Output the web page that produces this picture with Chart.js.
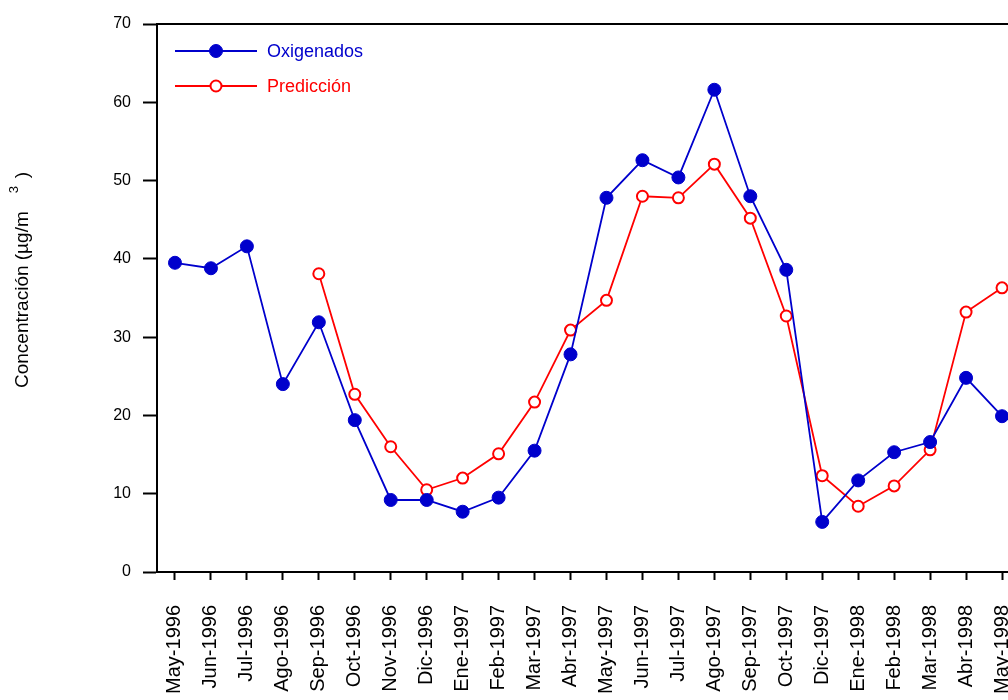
<!DOCTYPE html>
<html>
<head>
<meta charset="utf-8">
<script src="https://cdn.jsdelivr.net/npm/chart.js@4.4.1/dist/chart.umd.min.js"></script>
<style>
  html, body { margin: 0; padding: 0; overflow: hidden; background: #fff; }
  canvas { display: block; }
</style>
</head>
<body>
<canvas id="chartCanva" width="1060" height="700"></canvas>
<script>
// monthly samples (Nov-1997 has no measurement)
const months = ["May-1996", "Jun-1996", "Jul-1996", "Ago-1996", "Sep-1996", "Oct-1996",
    "Nov-1996", "Dic-1996", "Ene-1997", "Feb-1997", "Mar-1997", "Abr-1997", "May-1997",
    "Jun-1997", "Jul-1997", "Ago-1997", "Sep-1997", "Oct-1997", "Dic-1997", "Ene-1998",
    "Feb-1998", "Mar-1998", "Abr-1998", "May-1998"]

const oxigenados = [39.5, 38.8, 41.6, 24.0, 31.9, 19.4, 9.2, 9.2, 7.7, 9.5, 15.5, 27.8,
    47.8, 52.6, 50.4, 61.6, 48.0, 38.6, 6.4, 11.7, 15.3, 16.6, 24.8, 19.9]

const prediccion = [null, null, null, null, 38.1, 22.7, 16.0, 10.5, 12.0, 15.1, 21.7, 30.9,
    34.7, 48.0, 47.8, 52.1, 45.2, 32.7, 12.3, 8.4, 11.0, 15.6, 33.2, 36.3]

const yMax = 70
const yStep = 10

const fontFamily = "'Liberation Sans', Arial, sans-serif"
const blue = "rgb(0,0,204)"
const red = "rgb(255,0,0)"

// top and right edges of the plot box
const framePlugin = {
    id: "frame",
    afterDraw(chart) {
        const { ctx, chartArea } = chart
        ctx.save()
        ctx.strokeStyle = "#000"
        ctx.lineWidth = 2
        ctx.beginPath()
        ctx.moveTo(chartArea.left, chartArea.top)
        ctx.lineTo(chartArea.right, chartArea.top)
        ctx.lineTo(chartArea.right, chartArea.bottom)
        ctx.stroke()
        ctx.restore()
    }
}

// y axis title with a raised "3"
const yTitlePlugin = {
    id: "yTitle",
    afterDraw(chart) {
        const { ctx } = chart
        ctx.save()
        ctx.translate(28, 388)
        ctx.rotate(-Math.PI / 2)
        ctx.fillStyle = "#000"
        ctx.textBaseline = "alphabetic"
        ctx.textAlign = "left"
        ctx.font = "19px " + fontFamily
        const main = "Concentración (µg/m"
        ctx.fillText(main, 0, 0)
        const w = ctx.measureText(main).width
        ctx.font = "13px " + fontFamily
        ctx.fillText("3", w + 18, -10)
        ctx.font = "19px " + fontFamily
        ctx.fillText(")", w + 33, 0)
        ctx.restore()
    }
}

// legend drawn inside the plot, top left
const legendPlugin = {
    id: "insideLegend",
    afterDatasetsDraw(chart) {
        const { ctx, chartArea } = chart
        ctx.save()
        chart.data.datasets.forEach((ds, i) => {
            const y = chartArea.top + 27 + i * 35
            const x0 = chartArea.left + 18
            ctx.strokeStyle = ds.borderColor
            ctx.lineWidth = ds.borderWidth
            ctx.beginPath()
            ctx.moveTo(x0, y)
            ctx.lineTo(x0 + 82, y)
            ctx.stroke()
            ctx.beginPath()
            ctx.arc(x0 + 41, y, ds.pointRadius, 0, Math.PI * 2)
            ctx.fillStyle = ds.pointBackgroundColor
            ctx.fill()
            ctx.lineWidth = ds.pointBorderWidth
            ctx.strokeStyle = ds.pointBorderColor
            ctx.stroke()
            ctx.fillStyle = ds.borderColor
            ctx.font = "18px " + fontFamily
            ctx.textBaseline = "middle"
            ctx.fillText(ds.label, x0 + 92, y + 1)
        })
        ctx.restore()
    }
}

const config = {
    type: "line",
    data: {
        labels: months,
        datasets: [{
            label: "Oxigenados",
            data: oxigenados,
            borderColor: blue,
            borderWidth: 1.8,
            pointRadius: 6.5,
            pointBackgroundColor: blue,
            pointBorderColor: blue,
            pointBorderWidth: 1,
            tension: 0
        }, {
            label: "Predicción",
            data: prediccion,
            borderColor: red,
            borderWidth: 1.8,
            pointRadius: 5.5,
            pointBackgroundColor: "#fff",
            pointBorderColor: red,
            pointBorderWidth: 2,
            tension: 0
        }]
    },
    options: {
        responsive: false,
        animation: false,
        layout: { padding: { top: 24, right: 40, left: 0, bottom: 0 } },
        plugins: {
            legend: { display: false },
            tooltip: { enabled: false }
        },
        scales: {
            x: {
                offset: true,
                grid: { offset: false, drawOnChartArea: false, tickLength: 8, tickWidth: 2, tickColor: "#000" },
                border: { color: "#000", width: 2 },
                ticks: {
                    color: "#000",
                    font: { family: fontFamily, size: 20 },
                    maxRotation: 90,
                    minRotation: 90,
                    padding: 25,
                    autoSkip: false
                },
                afterFit: (scale) => { scale.height = 128 }
            },
            y: {
                min: 0,
                max: yMax,
                grid: { drawOnChartArea: false, tickLength: 14, tickWidth: 2, tickColor: "#000" },
                border: { color: "#000", width: 2 },
                ticks: {
                    stepSize: yStep,
                    color: "#000",
                    font: { family: fontFamily, size: 16 },
                    padding: 12
                },
                afterFit: (scale) => { scale.width = 157 }
            }
        }
    },
    plugins: [framePlugin, yTitlePlugin, legendPlugin]
}

const myChart = new Chart(document.getElementById("chartCanva"), config)
</script>
</body>
</html>
